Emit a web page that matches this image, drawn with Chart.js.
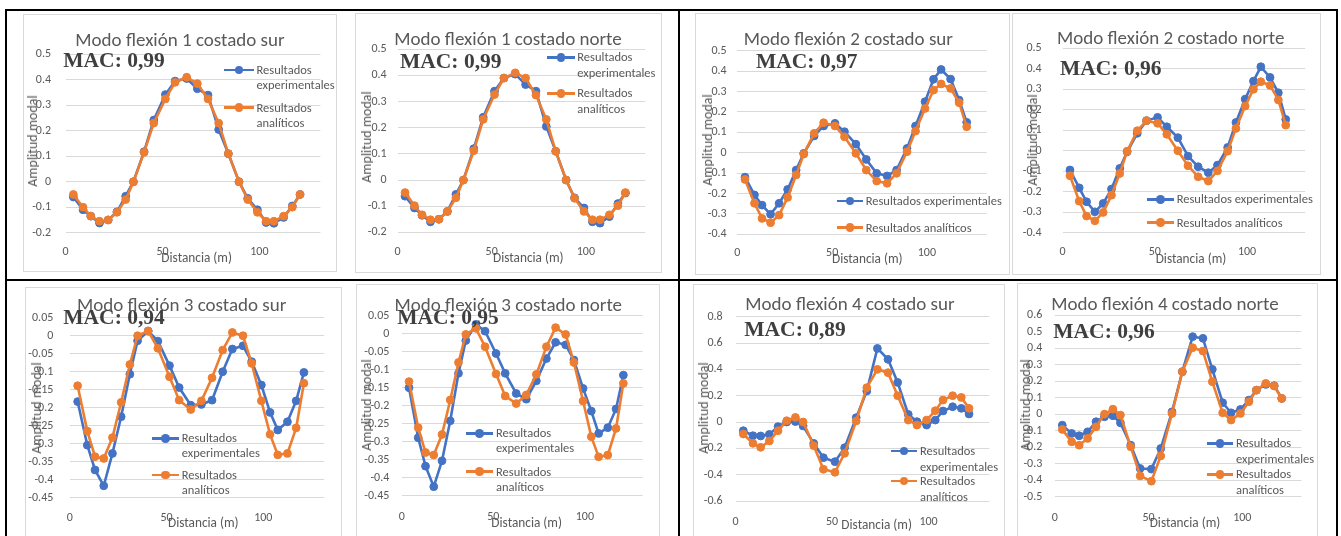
<!DOCTYPE html>
<html>
<head>
<meta charset="utf-8">
<script src="https://cdn.jsdelivr.net/npm/chart.js@4.4.1/dist/chart.umd.min.js"></script>
<style>
html,body{margin:0;padding:0;background:#fff;width:1341px;height:536px;overflow:hidden;position:relative;}
.frame{position:absolute;background:#000;}
.panel{position:absolute;border:1px solid #d9d9d9;box-sizing:border-box;}
.txt{position:absolute;white-space:nowrap;line-height:1;}
.ttl{font-family:Carlito,'Liberation Sans Narrow','Liberation Sans',sans-serif;font-size:19px;color:#595959;transform:translate(-50%,-50%);}
.mac{font-family:'Liberation Serif','DejaVu Serif',serif;font-weight:bold;font-size:21.5px;color:#3f3f3f;transform:translateY(-50%);}
.axt{font-family:Carlito,'Liberation Sans Narrow','Liberation Sans',sans-serif;font-size:13.3px;color:#595959;transform:translate(-50%,-50%);}
.axty{font-family:Carlito,'Liberation Sans Narrow','Liberation Sans',sans-serif;font-size:14px;color:#595959;transform:translate(-50%,-50%) rotate(-90deg);}
.leg{font-family:Carlito,'Liberation Sans Narrow','Liberation Sans',sans-serif;font-size:12.5px;color:#595959;transform:translateY(-50%);}
.lline{position:absolute;height:2.6px;}
.ldot{position:absolute;width:8.6px;height:8.6px;border-radius:50%;}
canvas{position:absolute;}
</style>
</head>
<body>
<script>
// ---------- DATA ----------
const distancias = [4, 9, 13, 17.5, 22, 26.5, 31, 35, 40.5, 45.5, 51.5, 56.5, 62.5, 68, 73.5, 79, 84, 89.5, 94, 99, 103.5, 107.5, 112.5, 117, 121];
const xTickValues = [0, 50, 100];

const exp1Sur = [-0.06, -0.11, -0.135, -0.162, -0.15, -0.118, -0.057, 0.0, 0.118, 0.242, 0.342, 0.395, 0.405, 0.365, 0.34, 0.205, 0.11, 0.0, -0.065, -0.11, -0.16, -0.163, -0.14, -0.095, -0.05];
const ana1Sur = [-0.05, -0.10, -0.135, -0.155, -0.15, -0.12, -0.07, 0.0, 0.115, 0.23, 0.325, 0.39, 0.41, 0.385, 0.325, 0.23, 0.11, 0.0, -0.07, -0.12, -0.155, -0.155, -0.135, -0.10, -0.05];

const exp1Norte = [-0.062, -0.107, -0.135, -0.16, -0.15, -0.12, -0.055, 0.0, 0.12, 0.24, 0.34, 0.39, 0.405, 0.365, 0.34, 0.205, 0.11, 0.0, -0.068, -0.107, -0.16, -0.165, -0.14, -0.09, -0.05];
const ana1Norte = [-0.048, -0.098, -0.133, -0.152, -0.15, -0.12, -0.068, 0.0, 0.112, 0.232, 0.327, 0.39, 0.41, 0.39, 0.325, 0.232, 0.11, 0.0, -0.07, -0.12, -0.152, -0.152, -0.133, -0.098, -0.048];

const exp2Sur = [-0.12, -0.207, -0.257, -0.302, -0.248, -0.18, -0.085, -0.003, 0.082, 0.131, 0.144, 0.103, 0.042, -0.033, -0.101, -0.114, -0.085, 0.021, 0.131, 0.25, 0.36, 0.408, 0.361, 0.258, 0.149];
const ana2Sur = [-0.131, -0.248, -0.322, -0.343, -0.306, -0.219, -0.109, -0.007, 0.095, 0.147, 0.131, 0.078, -0.003, -0.085, -0.139, -0.15, -0.101, 0.005, 0.106, 0.217, 0.307, 0.337, 0.315, 0.245, 0.127];

const exp2Norte = [-0.094, -0.181, -0.249, -0.298, -0.257, -0.187, -0.086, -0.005, 0.085, 0.147, 0.163, 0.117, 0.064, -0.026, -0.078, -0.107, -0.07, 0.016, 0.138, 0.252, 0.34, 0.41, 0.358, 0.283, 0.153];
const ana2Norte = [-0.122, -0.246, -0.319, -0.342, -0.301, -0.217, -0.111, -0.002, 0.098, 0.147, 0.134, 0.08, 0.0, -0.073, -0.127, -0.148, -0.098, -0.002, 0.109, 0.218, 0.3, 0.337, 0.319, 0.248, 0.125];

const exp3Sur = [-0.183, -0.304, -0.373, -0.417, -0.327, -0.225, -0.107, -0.014, 0.013, -0.015, -0.083, -0.144, -0.193, -0.191, -0.179, -0.1, -0.037, -0.028, -0.072, -0.137, -0.213, -0.262, -0.239, -0.181, -0.102];
const ana3Sur = [-0.139, -0.265, -0.336, -0.341, -0.283, -0.185, -0.08, 0.0, 0.013, -0.035, -0.114, -0.179, -0.205, -0.181, -0.117, -0.04, 0.009, 0.0, -0.077, -0.181, -0.274, -0.331, -0.327, -0.256, -0.132];

const exp3Norte = [-0.15, -0.289, -0.368, -0.425, -0.353, -0.242, -0.11, -0.019, 0.026, 0.007, -0.055, -0.11, -0.166, -0.182, -0.131, -0.069, -0.024, -0.031, -0.073, -0.152, -0.215, -0.277, -0.261, -0.209, -0.115];
const ana3Norte = [-0.133, -0.261, -0.33, -0.337, -0.28, -0.184, -0.08, -0.002, 0.015, -0.036, -0.112, -0.173, -0.194, -0.17, -0.113, -0.036, 0.017, -0.002, -0.08, -0.187, -0.286, -0.342, -0.337, -0.263, -0.138];

const exp4Sur = [-0.066, -0.104, -0.106, -0.094, -0.035, 0.0, 0.003, -0.03, -0.162, -0.271, -0.301, -0.195, 0.033, 0.235, 0.559, 0.476, 0.301, 0.058, 0.003, -0.023, 0.015, 0.084, 0.116, 0.104, 0.061];
const ana4Sur = [-0.091, -0.162, -0.192, -0.144, -0.066, 0.01, 0.035, 0.0, -0.18, -0.359, -0.382, -0.238, 0.008, 0.261, 0.4, 0.375, 0.2, 0.015, -0.023, 0.015, 0.086, 0.167, 0.2, 0.187, 0.104];

const exp4Norte = [-0.067, -0.117, -0.131, -0.107, -0.046, -0.016, -0.01, -0.053, -0.188, -0.329, -0.333, -0.208, 0.014, 0.257, 0.469, 0.459, 0.271, 0.069, 0.008, 0.028, 0.085, 0.145, 0.18, 0.172, 0.095];
const ana4Norte = [-0.093, -0.168, -0.188, -0.147, -0.077, 0.0, 0.03, -0.006, -0.198, -0.374, -0.406, -0.253, 0.004, 0.257, 0.402, 0.382, 0.196, 0.008, -0.036, 0.004, 0.075, 0.145, 0.186, 0.17, 0.095];

const titles = ["Modo flexión 1 costado sur", "Modo flexión 1 costado norte", "Modo flexión 2 costado sur", "Modo flexión 2 costado norte",
                "Modo flexión 3 costado sur", "Modo flexión 3 costado norte", "Modo flexión 4 costado sur", "Modo flexión 4 costado norte"];
const macLabels = ["MAC: 0,99", "MAC: 0,99", "MAC: 0,97", "MAC: 0,96", "MAC: 0,94", "MAC: 0,95", "MAC: 0,89", "MAC: 0,96"];
const seriesNames = ["Resultados experimentales", "Resultados analíticos"];
const xTitle = "Distancia (m)";
const yTitle = "Amplitud modal";
const yRanges = [[-0.2, 0.5, 0.1], [-0.2, 0.5, 0.1], [-0.4, 0.5, 0.1], [-0.4, 0.5, 0.1],
                 [-0.45, 0.05, 0.05], [-0.45, 0.05, 0.05], [-0.6, 0.8, 0.2], [-0.5, 0.6, 0.1]];
const expSeries = [exp1Sur, exp1Norte, exp2Sur, exp2Norte, exp3Sur, exp3Norte, exp4Sur, exp4Norte];
const anaSeries = [ana1Sur, ana1Norte, ana2Sur, ana2Norte, ana3Sur, ana3Norte, ana4Sur, ana4Norte];
const X_MAX = 131.5;

// ---------- LAYOUT (page pixels) ----------
const layouts = [
 {L:23,T:14,W:314,H:258, x0:65.6,x1:320.4, yTop:54.3,yBot:232.7, yLabR:51, xLabY:252.3, t:[180,39.3], m:[63.3,61], yt:[32.7,141], xt:[196.7,258.3], lg:{a:224,b:254,ye:70,ya:107.7,tx:256.5,two:true,gap:15.3}},
 {L:355,T:13,W:307,H:260, x0:397.5,x1:645.2, yTop:49.3,yBot:232.3, yLabR:386.7, xLabY:252.3, t:[508,38.3], m:[400,61.7], yt:[366.7,137], xt:[528.3,258.3], lg:{a:546.7,b:575,ye:57.3,ya:93.3,tx:577.3,two:true,gap:16}},
 {L:695,T:13,W:315,H:262, x0:737.4,x1:986.6, yTop:50.7,yBot:234.3, yLabR:726.7, xLabY:253.3, t:[848.3,38.3], m:[756,61.7], yt:[708.3,140], xt:[867.3,259.3], lg:{a:836.7,b:863.3,ye:201,ya:227.7,tx:865.7,two:false}},
 {L:1012,T:13,W:309,H:262, x0:1062.6,x1:1305.1, yTop:48.3,yBot:232.7, yLabR:1041.7, xLabY:252.3, t:[1170.7,36.7], m:[1060,69], yt:[1033.3,140], xt:[1191,259], lg:{a:1146.7,b:1174.3,ye:199.3,ya:222.7,tx:1176.7,two:false}},
 {L:25,T:287,W:317,H:260, x0:69.9,x1:324.2, yTop:317.7,yBot:497.7, yLabR:53.3, xLabY:518.3, t:[181.7,304.3], m:[63.3,318.3], yt:[36.7,408.3], xt:[203.3,523.3], lg:{a:151.7,b:179,ye:438.3,ya:475,tx:181.7,two:true,gap:15}},
 {L:356,T:284,W:304,H:262, x0:401.7,x1:642.6, yTop:315.7,yBot:495.7, yLabR:389.3, xLabY:517.3, t:[508.3,304.3], m:[397.3,318.3], yt:[367.3,405], xt:[526.7,523.3], lg:{a:466,b:493.3,ye:433.3,ya:471.7,tx:496,two:true,gap:15}},
 {L:693,T:284,W:312,H:262, x0:735.6,x1:989.3, yTop:316.7,yBot:501, yLabR:722.7, xLabY:521.7, t:[850,303.3], m:[744.3,330], yt:[704,408.3], xt:[876.7,525], lg:{a:890.7,b:917.3,ye:451,ya:481,tx:920,two:true,gap:15.7}},
 {L:1017,T:283,W:301,H:263, x0:1054.8,x1:1301.4, yTop:315,yBot:496.7, yLabR:1042.3, xLabY:518.3, t:[1165,303.3], m:[1053.3,331.7], yt:[1025.7,405], xt:[1185,523.3], lg:{a:1206.7,b:1233.3,ye:443.3,ya:474.3,tx:1236,two:true,gap:15.3}}
];

const BLUE = '#4472C4', ORANGE = '#ED7D31';
const FONT = "Carlito, 'Liberation Sans Narrow', 'Liberation Sans', sans-serif";

function el(cls, css, text) {
  const d = document.createElement('div');
  d.className = cls; d.style.cssText = css;
  if (text !== undefined) d.textContent = text;
  document.body.appendChild(d);
  return d;
}

// black frame
[[5,9,1333,2],[5,9,2,527],[1336,9,2,527],[678,9,2,527],[5,279,1333,2],[693,530,1,6]].forEach(r =>
  el('frame', `left:${r[0]}px;top:${r[1]}px;width:${r[2]}px;height:${r[3]}px;`));

function fmt(v) { return String(Math.round(v * 1000) / 1000); }

layouts.forEach((p, k) => {
  el('panel', `left:${p.L}px;top:${p.T}px;width:${p.W}px;height:${p.H}px;`);
  const c = document.createElement('canvas');
  c.width = p.W; c.height = p.H;
  c.style.cssText = `left:${p.L}px;top:${p.T}px;width:${p.W}px;height:${p.H}px;`;
  document.body.appendChild(c);

  const [yMin, yMax, yStep] = yRanges[k];
  const n = Math.round((yMax - yMin) / yStep);
  const yTicks = [];
  for (let i = 0; i <= n; i++) yTicks.push(+(yMin + i * yStep).toFixed(4));

  const cL = p.x0 - p.L, cR = p.x1 - p.L, cT = p.yTop - p.T, cB = p.yBot - p.T;
  const mk = (arr) => distancias.map((x, i) => ({x: x, y: arr[i]}));
  const ds = (label, arr, col, order) => ({
    label, data: mk(arr), borderColor: col, backgroundColor: col,
    borderWidth: 2.6, pointRadius: 3.9, pointBorderWidth: 1, pointBackgroundColor: col, pointBorderColor: col,
    tension: 0, order
  });

  new Chart(c, {
    type: 'line',
    data: { datasets: [ds(seriesNames[0], expSeries[k], BLUE, 2), ds(seriesNames[1], anaSeries[k], ORANGE, 1)] },
    options: {
      responsive: false, animation: false, devicePixelRatio: 1,
      layout: { padding: { left: 0, top: cT, right: p.W - cR, bottom: 0 } },
      plugins: { legend: { display: false }, tooltip: { enabled: false }, title: { display: false } },
      events: [],
      scales: {
        x: {
          type: 'linear', min: 0, max: X_MAX,
          afterBuildTicks: ax => { ax.ticks = xTickValues.map(v => ({value: v})); },
          afterFit: s => { s.height = p.H - cB; },
          grid: { display: false, drawTicks: false }, border: { display: false },
          ticks: { padding: p.xLabY - p.yBot - 7.2, color: '#595959', font: { family: FONT, size: 12 }, maxRotation: 0, autoSkip: false }
        },
        y: {
          type: 'linear', min: yMin, max: yMax,
          afterBuildTicks: ax => { ax.ticks = yTicks.map(v => ({value: v})); },
          afterFit: s => { s.width = cL; },
          grid: { color: '#d9d9d9', lineWidth: 1, drawTicks: false }, border: { display: false },
          ticks: { padding: p.x0 - p.yLabR, callback: v => fmt(v), color: '#595959', font: { family: FONT, size: 12 }, autoSkip: false }
        }
      }
    }
  });

  // texts
  el('txt ttl', `left:${p.t[0]}px;top:${p.t[1]}px;`, titles[k]);
  el('txt axty', `left:${p.yt[0]}px;top:${p.yt[1]}px;`, yTitle);
  el('txt axt', `left:${p.xt[0]}px;top:${p.xt[1]}px;`, xTitle);
  el('txt mac', `left:${p.m[0]}px;top:${p.m[1]}px;`, macLabels[k]);

  // legend
  const g = p.lg;
  [[g.ye, BLUE, 0], [g.ya, ORANGE, 1]].forEach(([yy, col, si]) => {
    el('lline', `left:${g.a}px;top:${yy - 1.3}px;width:${g.b - g.a}px;background:${col};`);
    el('ldot', `left:${(g.a + g.b) / 2 - 4.3}px;top:${yy - 4.3}px;background:${col};`);
    const words = seriesNames[si].split(' ');
    if (g.two) {
      el('txt leg', `left:${g.tx}px;top:${yy}px;`, words[0]);
      el('txt leg', `left:${g.tx}px;top:${yy + g.gap}px;`, words.slice(1).join(' '));
    } else {
      el('txt leg', `left:${g.tx}px;top:${yy}px;`, seriesNames[si]);
    }
  });
});
</script>
</body>
</html>
